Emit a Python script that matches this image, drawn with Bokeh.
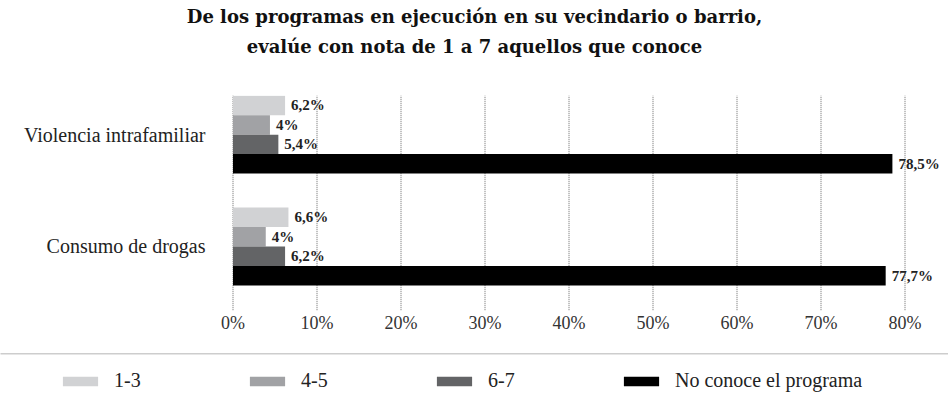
from bokeh.plotting import figure
from bokeh.models import (Range1d, FixedTicker, Legend, LegendItem, Span,
                          Title, ColumnDataSource)
from bokeh.transform import dodge
from bokeh.core.properties import value
from bokeh.embed import file_html
from bokeh.resources import INLINE

# ---------------- data ----------------
title_lines = ["De los programas en ejecución en su vecindario o barrio,",
               "evalúe con nota de 1 a 7 aquellos que conoce"]
categories = ["Violencia intrafamiliar", "Consumo de drogas"]
cat_pos = [1, 0]
series_names = ["1-3", "4-5", "6-7", "No conoce el programa"]
v_13 = [6.2, 6.6]
v_45 = [4.4, 3.9]
v_67 = [5.4, 6.2]
v_nc = [78.5, 77.7]
lbl_13 = ["6,2%", "6,6%"]
lbl_45 = ["4%", "4%"]
lbl_67 = ["5,4%", "6,2%"]
lbl_nc = ["78,5%", "77,7%"]
x_ticks = [0, 10, 20, 30, 40, 50, 60, 70, 80]
x_tick_labels = ["0%", "10%", "20%", "30%", "40%", "50%", "60%", "70%", "80%"]
colors = ["#d1d2d4", "#a1a2a5", "#636466", "#000000"]

# ---------------- layout / style ----------------
SERIF = "Liberation Serif"
SERIF_Q = "'Liberation Serif'"
TITLE_FONT = "DejaVu Serif"
W, H = 948, 403
FRAME_TOP = 96            # px from top of canvas
PX_PER_CAT = 111.5        # px between the two category groups
CAT_TOP_PX = 135          # px of the first category centre
BAR_H = 0.174             # bar thickness in category units
X0_PX = 232.5             # px of 0 %
PX_PER_PCT = 8.4


def ypx(px):
    """canvas pixel row -> data y (category units)"""
    return 1 - (px - CAT_TOP_PX) / PX_PER_CAT


def xpx(px):
    return (px - X0_PX) / PX_PER_PCT


GRID_BOTTOM = ypx(310)
AXIS_Y = ypx(306)
SEP_Y = ypx(353.5)

p = figure(width=W, height=H, title=None,
           x_range=Range1d(xpx(0), xpx(W)), y_range=Range1d(ypx(H), ypx(FRAME_TOP)),
           output_backend="svg", toolbar_location=None,
           y_axis_location=None,
           min_border_left=0, min_border_right=0,
           min_border_top=0, min_border_bottom=0)
p.outline_line_color = None
p.background_fill_color = "white"
p.xgrid.visible = False
p.ygrid.visible = False

# dotted vertical grid lines, one per tick, from the top of the plot to the axis
p.segment(x0=x_ticks, x1=x_ticks, y0=GRID_BOTTOM, y1=ypx(FRAME_TOP),
          line_color="#6a6a6a", line_dash="1 1", line_width=1)

# x axis placed inside the plot region
ax = p.xaxis[0]
ax.fixed_location = AXIS_Y
ax.ticker = FixedTicker(ticks=x_ticks)
ax.major_label_overrides = {t: l for t, l in zip(x_ticks, x_tick_labels)}
ax.axis_line_color = None
ax.major_tick_line_color = None
ax.minor_tick_line_color = None
ax.major_label_standoff = 1
ax.major_label_text_font = SERIF_Q
ax.major_label_text_font_size = "18px"
ax.major_label_text_color = "#333333"

# dotted separator between chart and legend
p.add_layout(Span(location=SEP_Y, dimension="width", line_color="#6a6a6a",
                  line_dash="1 1", line_width=1))

series_vals = [v_13, v_45, v_67, v_nc]
series_lbls = [lbl_13, lbl_45, lbl_67, lbl_nc]
offsets = [1.5 * BAR_H, 0.5 * BAR_H, -0.5 * BAR_H, -1.5 * BAR_H]

renderers = []
for vals, lbls, off, col in zip(series_vals, series_lbls, offsets, colors):
    src = ColumnDataSource(dict(cy=cat_pos, v=vals, lbl=lbls))
    r = p.hbar(y=dodge("cy", off, range=p.y_range), left=0, right="v",
               height=BAR_H, source=src, fill_color=col, line_color=None)
    renderers.append(r)
    p.text(x="v", y=dodge("cy", off, range=p.y_range), text="lbl", source=src,
           x_offset=6, text_baseline="middle", text_align="left",
           text_font=value(SERIF), text_font_style="bold",
           text_font_size="15px", text_color="#222222")

cat_src = ColumnDataSource(dict(cy=cat_pos, cat=categories))
p.text(x=xpx(205), y="cy", text="cat", source=cat_src, text_align="right",
       text_baseline="middle", text_font=value(SERIF), text_font_size="20px",
       text_color="#222222")

legend = Legend(items=[LegendItem(label=n, renderers=[r])
                       for n, r in zip(series_names, renderers)],
                location=(58, 11), orientation="horizontal",
                glyph_width=44, glyph_height=12, label_standoff=12,
                label_width=122, spacing=9, padding=0, margin=0,
                border_line_color=None, background_fill_alpha=0,
                label_text_font=SERIF_Q, label_text_font_size="20px",
                label_text_color="#222222")
p.add_layout(legend)

# title: spacer (closest to plot), line 2, line 1
spacer = Title(text="\u00a0", text_font_size="10px", standoff=22)
p.add_layout(spacer, "above")
t2 = Title(text=title_lines[1], align="center", text_font=TITLE_FONT,
           text_font_size="18px", text_font_style="bold", standoff=8,
           text_color="#111111")
p.add_layout(t2, "above")
t1 = Title(text=title_lines[0], align="center", text_font=TITLE_FONT,
           text_font_size="18px", text_font_style="bold", standoff=6,
           text_color="#111111")
p.add_layout(t1, "above")

open("out.html", "w").write(file_html(p, INLINE))
